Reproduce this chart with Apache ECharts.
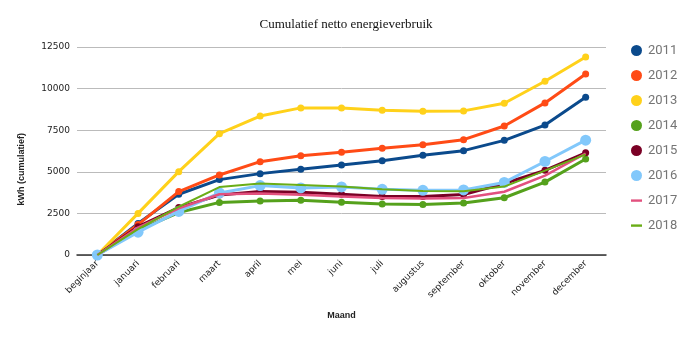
<!DOCTYPE html>
<html><head><meta charset="utf-8">
<script src="https://cdn.jsdelivr.net/npm/echarts@6/dist/echarts.min.js"></script>
<style>html,body{margin:0;padding:0;background:#fff}#c{width:690px;height:338px}</style>
</head><body><div id="c"></div>
<script>
const categories = ['beginjaar','januari','februari','maart','april','mei','juni','juli','augustus','september','oktober','november','december'];
const yTicks = [0, 2500, 5000, 7500, 10000, 12500];
const s2011 = [0,1900,3650,4530,4890,5150,5410,5670,5990,6270,6890,7810,9480];
const s2012 = [0,1830,3810,4810,5610,5970,6170,6410,6630,6930,7750,9140,10880];
const s2013 = [0,2500,5010,7290,8350,8840,8840,8700,8640,8660,9120,10440,11900];
const s2014 = [0,1500,2550,3160,3250,3290,3170,3070,3030,3120,3440,4380,5770];
const s2015 = [0,1700,2850,3600,3810,3770,3650,3510,3510,3640,4300,5090,6140];
const s2016 = [0,1370,2620,3730,4170,4030,4090,3950,3890,3910,4360,5620,6900];
const s2017 = [0,1650,2800,3650,3700,3620,3520,3420,3400,3420,3800,4770,6100];
const s2018 = [0,1550,2900,4080,4290,4210,4110,3950,3850,3830,4110,5070,6050];
const seriesNames = ['2011','2012','2013','2014','2015','2016','2017','2018'];

const chart = echarts.init(document.getElementById('c'), null, {renderer:'canvas'});
const colors = ['#0b4a8c','#ff4b16','#ffd11a','#55a11c','#7a0025','#82c8fb','#e2507e','#6aad16'];
const data = [s2011,s2012,s2013,s2014,s2015,s2016,s2017,s2018];
const lineIcon = 'path://M0,0M0,10M0,3.8h12v2.6h-12z';
const series = data.map((d,i)=>{
  const noMarker = i>=6;
  return {
    name: seriesNames[i], type:'line', data:d,
    symbol: noMarker ? 'none' : 'circle',
    symbolSize: i===5 ? 11 : 7,
    showSymbol: !noMarker,
    lineStyle:{width: i===7 ? 2 : (i===6 ? 2.5 : 3), color: colors[i]},
    itemStyle:{color: colors[i]},
    z: 2+i
  };
});
chart.setOption({
  animation:false,
  title:{text:'Cumulatief netto energieverbruik', left:341, textAlign:'center', top:13,
    textStyle:{fontFamily:'Liberation Serif', fontSize:13, fontWeight:'normal', color:'#111'}},
  legend:{orient:'vertical', left:626, top:39, itemWidth:11, itemHeight:11, itemGap:12,
    textStyle:{fontFamily:'Roboto', fontSize:13, color:'#757575', padding:[0,0,0,1]},
    data: seriesNames.map((n,i)=>({name:n, icon: i>=6 ? lineIcon : 'circle'}))},
  grid:{left:77, right:84, top:47, bottom:83},
  xAxis:{type:'category', data:categories, boundaryGap:true,
    axisLine:{lineStyle:{color:'#333', width:1.5}},
    axisTick:{show:false},
    axisLabel:{rotate:45, fontSize:9, color:'#222', fontFamily:'DejaVu Sans', margin:7, interval:0},
    name:'Maand', nameLocation:'middle', nameGap:56,
    nameTextStyle:{fontFamily:'Liberation Sans', fontWeight:'bold', fontSize:9, color:'#222'}},
  yAxis:{type:'value', min:yTicks[0], max:yTicks[yTicks.length-1], interval:2500,
    axisLine:{show:false}, axisTick:{show:false},
    splitLine:{lineStyle:{color:'#bbbbbb', width:1}},
    axisLabel:{fontSize:9, color:'#222', fontFamily:'DejaVu Sans', margin:7, formatter: v => String(v)}},
  graphic:[{type:'text', left:17, top:133, rotation:Math.PI/2,
    style:{text:'kWh (cumulatief)', font:'bold 9px "Liberation Sans"', fill:'#222'}}],
  series: series
});
</script></body></html>
